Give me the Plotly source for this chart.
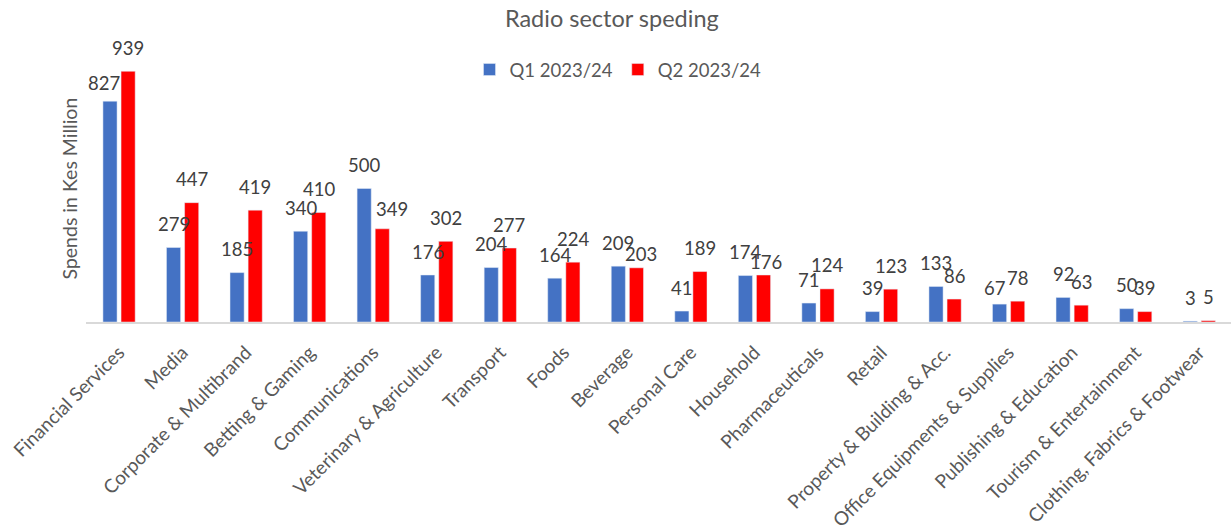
import plotly.graph_objects as go

# Radio advertising spend by sector, Kes Million
categories = [
    "Financial Services", "Media", "Corporate & Multibrand", "Betting & Gaming",
    "Communications", "Veterinary & Agriculture", "Transport", "Foods", "Beverage",
    "Personal Care", "Household", "Pharmaceuticals", "Retail",
    "Property & Building & Acc.", "Office Equipments & Supplies",
    "Publishing & Education", "Tourism & Entertainment", "Clothing, Fabrics & Footwear",
]
q1_values = [827, 279, 185, 340, 500, 176, 204, 164, 209, 41, 174, 71, 39, 133, 67, 92, 50, 3]
q2_values = [939, 447, 419, 410, 349, 302, 277, 224, 203, 189, 176, 124, 123, 86, 78, 63, 39, 5]
series_names = ["Q1 2023/24", "Q2 2023/24"]

# label nudges (px) where neighbouring labels would collide
q1_label_nudge = {0: (-6, -5), 14: (-5, -7)}
q2_label_nudge = {4: (9.5, -4), 8: (4.6, -9.7), 10: (2.3, -10)}

BLUE = "#4472C4"
RED = "#FF0000"
FONT = "Lato"
BARGAP = 0.43
BARGROUPGAP = 0.22
LABEL_LIFT = 23.5

fig = go.Figure()
fig.add_trace(go.Bar(name=series_names[0], x=categories, y=q1_values, marker_color=BLUE))
fig.add_trace(go.Bar(name=series_names[1], x=categories, y=q2_values, marker_color=RED))

# value labels above each bar
half_slot = (1 - BARGAP) / 4
annotations = []
for values, side, nudges in ((q1_values, -1, q1_label_nudge), (q2_values, 1, q2_label_nudge)):
    for i, v in enumerate(values):
        dx, dy = nudges.get(i, (0, 0))
        annotations.append(dict(
            x=i + side * half_slot, y=v, xref="x", yref="y", text=str(v),
            showarrow=False, xanchor="center", yanchor="middle",
            xshift=dx, yshift=LABEL_LIFT + dy,
            font=dict(family=FONT, size=18.5, color="#404040"),
        ))

# y axis title
annotations.append(dict(
    x=-0.014, y=0.5, xref="paper", yref="paper", text="Spends in Kes Million",
    textangle=-90, showarrow=False, xanchor="center", yanchor="middle",
    font=dict(family=FONT, size=19.5, color="#595959"),
))

fig.update_layout(
    width=1231, height=531,
    margin=dict(l=86, r=0, t=54.5, b=208.5, autoexpand=False),
    paper_bgcolor="white", plot_bgcolor="white",
    barmode="group", bargap=BARGAP, bargroupgap=BARGROUPGAP,
    title=dict(
        text="Radio sector speding", xref="container", x=0.497, xanchor="center",
        yref="container", y=1 - 19 / 531, yanchor="middle",
        font=dict(family=FONT, size=23.5, color="#595959"),
    ),
    legend=dict(
        orientation="h", xref="container", x=618 / 1231, xanchor="center",
        yref="container", y=1 - 70 / 531, yanchor="middle",
        font=dict(family=FONT, size=18.5, color="#595959"),
        itemwidth=30, traceorder="normal",
    ),
    annotations=annotations,
    xaxis=dict(
        type="category", showline=True, linecolor="#D9D9D9", linewidth=2,
        ticks="", tickangle=-45, showgrid=False, ticklabelstandoff=10,
        tickfont=dict(family=FONT, size=19, color="#595959"),
    ),
    yaxis=dict(
        range=[0, 1000], showticklabels=False, showgrid=False, zeroline=False,
        showline=False, ticks="",
    ),
)

fig.write_html("out.html")
